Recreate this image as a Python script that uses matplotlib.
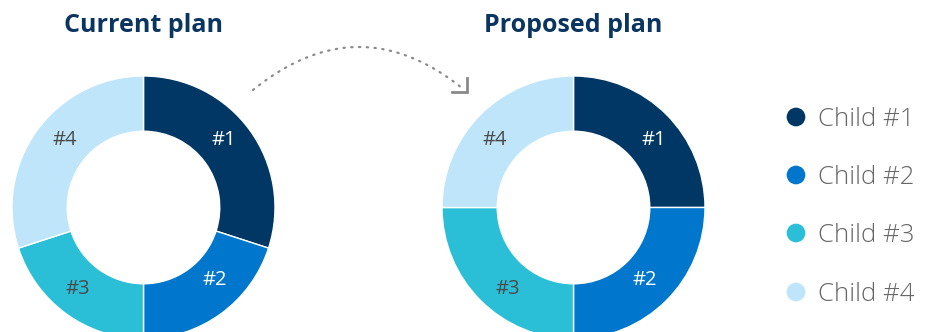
import numpy as np
import matplotlib
matplotlib.use("Agg")
import matplotlib.pyplot as plt

# ---- data ----
children = ["Child #1", "Child #2", "Child #3", "Child #4"]
slice_labels = ["#1", "#2", "#3", "#4"]
current_plan = [30, 20, 20, 30]
proposed_plan = [25, 25, 25, 25]
titles = ["Current plan", "Proposed plan"]
colors = ["#003764", "#0077CC", "#2ABFD6", "#BEE5FA"]
label_colors = ["white", "white", "#4a4a4a", "#4a4a4a"]
# label anchor positions (fraction of radius) used by the original layout
label_pos = [(0.607, 0.516), (0.544, -0.554), (-0.500, -0.622), (-0.597, 0.516)]

W, H = 925, 332
fig = plt.figure(figsize=(W / 100, H / 100), dpi=100)
plt.rcParams['font.family'] = ['Open Sans', 'DejaVu Sans']

R = 131.5
centers = [(143.5, 207.5), (573.5, 207.5)]
ring_w = 0.42

def donut(ax, values):
    ax.pie(values, colors=colors, startangle=90, counterclock=False, radius=1.0,
           wedgeprops=dict(width=ring_w, edgecolor="white", linewidth=1.0))
    for (lx, ly), lab, lc in zip(label_pos, slice_labels, label_colors):
        ax.text(lx, ly, lab, ha="center", va="center",
                fontsize=14.5, color=lc, fontweight="normal")
    ax.set_xlim(-1, 1)
    ax.set_ylim(-1, 1)
    ax.set_aspect("equal")
    ax.axis("off")

for (cx, cy), vals, title in zip(centers, [current_plan, proposed_plan], titles):
    ax = fig.add_axes([(cx - R) / W, (H - cy - R) / H, 2 * R / W, 2 * R / H])
    donut(ax, vals)
    fig.text(cx / W, 1 - 32 / H, title, ha="center", va="baseline",
             fontsize=18, fontweight="bold", color="#0A3560")

# overlay axes in pixel coordinates for arrow and legend
ov = fig.add_axes([0, 0, 1, 1])
ov.set_xlim(0, W)
ov.set_ylim(H, 0)
ov.axis("off")

# dotted curved arrow (quadratic bezier)
p0 = np.array([253, 90]); p1 = np.array([358, 5]); p2 = np.array([462, 88])
t = np.linspace(0, 1, 100)
curve = ((1 - t)[:, None] ** 2) * p0 + (2 * (1 - t) * t)[:, None] * p1 + (t[:, None] ** 2) * p2
ov.plot(curve[:, 0], curve[:, 1], color="#8a8a8a", lw=1.6, linestyle=(0, (0.6, 2.9)),
        dash_capstyle="round")
ov.plot([452, 467, 467], [92, 92, 78], color="#8a8a8a", lw=2, solid_joinstyle="miter")

# legend
leg_y = [117, 175, 233, 292]
for name, c, y in zip(children, colors, leg_y):
    ov.scatter([796], [y], s=18 ** 2 * 0.56, color=c, edgecolors="none")
    ov.text(818, y + 9, name, ha="left", va="baseline", fontsize=18.5,
            fontweight="light", color="#666666")

fig.savefig("out.png", dpi=100)
